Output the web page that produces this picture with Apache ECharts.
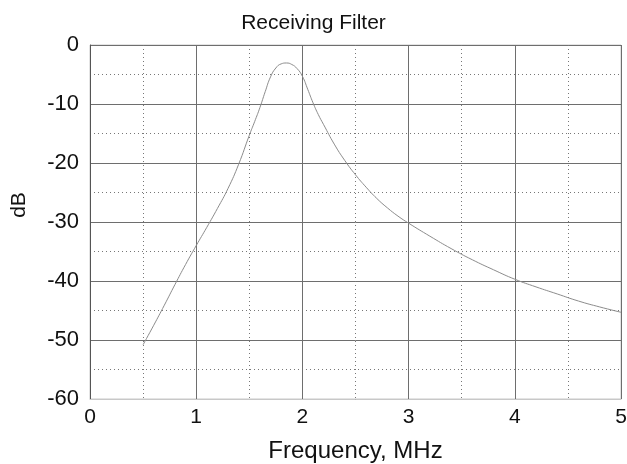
<!DOCTYPE html>
<html>
<head>
<meta charset="utf-8">
<script src="https://cdn.jsdelivr.net/npm/echarts@6/dist/echarts.min.js"></script>
<style>
  html, body { margin: 0; padding: 0; background: #fff; }
  #chart { width: 627px; height: 464px; }
</style>
</head>
<body>
<div id="chart"></div>
<script>
// frequency in MHz
var freq = [0.5, 0.6, 0.7, 0.8, 0.9, 1.0, 1.1, 1.2, 1.3, 1.4, 1.5, 1.55, 1.6, 1.65, 1.7, 1.75, 1.8, 1.85,
            1.9, 1.95, 2.0, 2.05, 2.1, 2.15, 2.2, 2.3, 2.4, 2.5, 2.6, 2.7, 2.8, 2.9, 3.0, 3.2, 3.4, 3.6,
            3.8, 4.0, 4.2, 4.4, 4.6, 4.8, 5.0];
// response in dB
var gain = [-50.8, -47.5, -44.1, -40.6, -37.2, -34.0, -30.9, -27.7, -24.3, -20.2, -15.3, -13.0, -10.6, -7.9, -5.4, -3.9, -3.2, -3.05,
            -3.3, -4.0, -5.3, -7.5, -9.8, -11.8, -13.5, -16.8, -19.6, -22.0, -24.1, -26.0, -27.6, -29.0, -30.2, -32.4, -34.5, -36.4,
            -38.1, -39.7, -41.0, -42.2, -43.4, -44.4, -45.3];

var points = freq.map(function (f, i) { return [f, gain[i]]; });

var myChart = echarts.init(document.getElementById('chart'));

var fontFam = 'Liberation Sans, Arial, sans-serif';

myChart.setOption({
    animation: false,
    backgroundColor: '#fff',
    title: {
        text: 'Receiving Filter',
        left: 'center',
        top: 8,
        textStyle: { fontFamily: fontFam, fontSize: 21, fontWeight: 'normal', color: '#111' }
    },
    grid: {
        left: 90,
        right: 6,
        top: 45,
        bottom: 65,
        outerBoundsMode: 'none',
        show: true,
        borderColor: '#c8c8c8',
        borderWidth: 1
    },
    xAxis: {
        type: 'value',
        min: 0,
        max: 5,
        interval: 1,
        name: 'Frequency, MHz',
        nameLocation: 'middle',
        nameGap: 40,
        nameTextStyle: { fontFamily: fontFam, fontSize: 24, color: '#111' },
        axisLine: { show: true, onZero: false, lineStyle: { color: '#c8c8c8' } },
        axisTick: { show: false },
        axisLabel: { fontFamily: fontFam, fontSize: 21, color: '#111', margin: 8 },
        splitLine: { show: true, lineStyle: { color: '#6e6e6e', width: 1 } },
        minorTick: { show: false, splitNumber: 2 },
        minorSplitLine: { show: true, lineStyle: { color: '#777', type: [1, 3], width: 1 } }
    },
    yAxis: {
        type: 'value',
        min: -60,
        max: 0,
        interval: 10,
        name: 'dB',
        nameLocation: 'middle',
        nameGap: 60,
        nameTextStyle: { fontFamily: fontFam, fontSize: 21, color: '#111', padding: [0, 0, 0, 34] },
        axisLine: { show: true, onZero: false, lineStyle: { color: '#555' } },
        axisTick: { show: false },
        axisLabel: { fontFamily: fontFam, fontSize: 22, color: '#111', margin: 11 },
        splitLine: { show: true, lineStyle: { color: '#6e6e6e', width: 1 } },
        minorTick: { show: false, splitNumber: 2 },
        minorSplitLine: { show: true, lineStyle: { color: '#777', type: [1, 3], width: 1 } }
    },
    series: [{
        type: 'line',
        data: points,
        smooth: 0.5,
        showSymbol: false,
        lineStyle: { color: '#8c8c8c', width: 1 }
    }]
});
</script>
</body>
</html>
